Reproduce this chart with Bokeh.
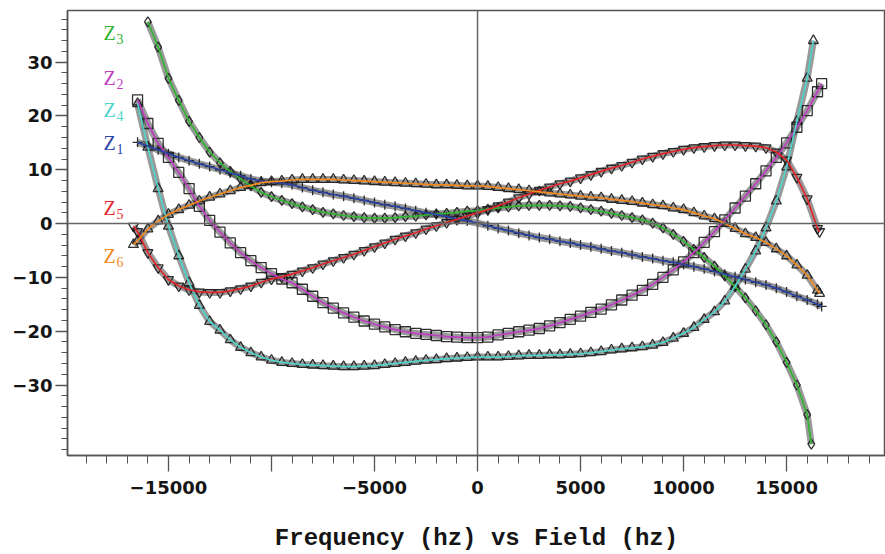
from bokeh.plotting import figure
from bokeh.models import Span, FixedTicker
from bokeh.core.properties import value
from bokeh.embed import file_html
from bokeh.resources import INLINE

# ---- data ----
Z3_F = [-16000, -15500, -15000, -14500, -14000, -13500, -13000, -12500, -12000, -11500, -11000, -10500,
        -10000, -9500, -9000, -8500, -8000, -7500, -7000, -6500, -6000, -5500, -5000, -4500, -4000, -3500,
        -3000, -2500, -2000, -1500, -1000, -500, 0, 500, 1000, 1500, 2000, 2500, 3000, 3500, 4000, 4500,
        5000, 5500, 6000, 6500, 7000, 7500, 8000, 8500, 9000, 9500, 10000, 10500, 11000, 11500, 12000,
        12500, 13000, 13500, 14000, 14500, 15000, 15500, 16000, 16200]
Z3_V = [37.5, 32.8, 27.0, 22.9, 19.0, 16.0, 13.3, 11.3, 9.7, 8.3, 7.0, 5.8,
        5.0, 4.3, 3.7, 3.1, 2.6, 2.1, 1.8, 1.5, 1.3, 1.1, 1.0, 1.0, 1.1, 1.3,
        1.4, 1.6, 1.8, 1.9, 2.1, 2.3, 2.4, 2.7, 2.9, 3.1, 3.3, 3.4, 3.4, 3.4, 3.3, 3.2,
        2.9, 2.6, 2.3, 1.9, 1.5, 1.1, 0.7, 0.1, -0.8, -2.0, -3.3, -4.8, -6.3, -7.9, -9.7,
        -11.7, -13.8, -16.2, -18.8, -22.0, -25.8, -30.0, -35.5, -41.0]

Z2_F = [-16500, -16000, -15500, -15000, -14500, -14000, -13500, -13000, -12500, -12000, -11500, -11000,
        -10500, -10000, -9500, -9000, -8500, -8000, -7500, -7000, -6500, -6000, -5500, -5000, -4500,
        -4000, -3500, -3000, -2500, -2000, -1500, -1000, -500, 0, 500, 1000, 1500, 2000, 2500, 3000,
        3500, 4000, 4500, 5000, 5500, 6000, 6500, 7000, 7500, 8000, 8500, 9000, 9500, 10000, 10500,
        11000, 11500, 12000, 12500, 13000, 13500, 14000, 14500, 15000, 15500, 16000, 16500, 16700]
Z2_V = [23.0, 18.6, 14.9, 12.3, 9.5, 6.5, 3.2, 0.6, -1.6, -3.6, -5.4, -6.9,
        -8.2, -9.3, -10.3, -11.0, -12.2, -13.5, -14.7, -15.7, -16.6, -17.4, -18.1, -18.7, -19.2,
        -19.7, -20.1, -20.4, -20.6, -20.8, -21.0, -21.1, -21.2, -21.2, -21.1, -20.7, -20.4, -20.1, -19.8, -19.5,
        -19.0, -18.4, -17.8, -17.2, -16.5, -15.9, -15.1, -14.2, -13.3, -12.4, -11.3, -10.0, -8.6, -7.1, -5.4,
        -3.5, -1.5, 0.7, 2.9, 5.1, 7.4, 9.8, 12.3, 15.0, 17.9, 21.0, 24.5, 26.0]

Z4_F = [-16500, -16000, -15500, -15000, -14500, -14000, -13500, -13000, -12500, -12000, -11500, -11000,
        -10500, -10000, -9500, -9000, -8500, -8000, -7500, -7000, -6500, -6000, -5500, -5000, -4500,
        -4000, -3500, -3000, -2500, -2000, -1500, -1000, -500, 0, 500, 1000, 1500, 2000, 2500, 3000,
        3500, 4000, 4500, 5000, 5500, 6000, 6500, 7000, 7500, 8000, 8500, 9000, 9500, 10000, 10500,
        11000, 11500, 12000, 12500, 13000, 13500, 14000, 14500, 15000, 15500, 16000, 16300]
Z4_V = [22.3, 14.2, 6.5, -0.5, -6.0, -11.0, -15.2, -18.2, -19.8, -21.6, -23.0, -24.0,
        -24.8, -25.4, -25.8, -26.0, -26.2, -26.3, -26.4, -26.5, -26.6, -26.6, -26.5, -26.4, -26.2,
        -26.0, -25.8, -25.6, -25.4, -25.3, -25.1, -25.0, -24.9, -24.8, -24.8, -24.8, -24.7, -24.6, -24.5, -24.5,
        -24.4, -24.4, -24.3, -24.2, -24.0, -23.8, -23.5, -23.3, -23.1, -22.9, -22.6, -22.1, -21.3, -20.4, -19.3,
        -17.8, -16.4, -14.4, -11.7, -8.5, -5.1, -0.8, 4.2, 10.5, 19.0, 27.0, 34.0]

Z1_F = [-16500, -16000, -15500, -15000, -14500, -14000, -13500, -13000, -12500, -12000, -11500, -11000,
        -10500, -10000, -9500, -9000, -8500, -8000, -7500, -7000, -6500, -6000, -5500, -5000, -4500,
        -4000, -3500, -3000, -2500, -2000, -1500, -1000, -500, 0, 500, 1000, 1500, 2000, 2500, 3000,
        3500, 4000, 4500, 5000, 5500, 6000, 6500, 7000, 7500, 8000, 8500, 9000, 9500, 10000, 10500,
        11000, 11500, 12000, 12500, 13000, 13500, 14000, 14500, 15000, 15500, 16000, 16500, 16700]
Z1_V = [15.1, 14.4, 13.7, 13.0, 12.3, 11.7, 11.1, 10.6, 10.0, 9.4, 8.9, 8.3,
        7.9, 7.7, 7.5, 7.2, 6.7, 6.2, 5.8, 5.4, 5.1, 4.7, 4.3, 3.9, 3.5,
        3.2, 2.8, 2.4, 2.0, 1.7, 1.3, 0.9, 0.5, 0.1, -0.4, -0.9, -1.3, -1.8, -2.2, -2.6,
        -2.9, -3.3, -3.6, -4.0, -4.3, -4.7, -5.1, -5.4, -5.8, -6.2, -6.5, -6.9, -7.2, -7.6, -8.0,
        -8.4, -8.9, -9.4, -9.9, -10.4, -10.9, -11.4, -12.0, -12.7, -13.5, -14.2, -15.0, -15.4]

Z5_F = [-16700, -16500, -16000, -15500, -15000, -14500, -14000, -13500, -13000, -12500, -12000, -11500,
        -11000, -10500, -10000, -9500, -9000, -8500, -8000, -7500, -7000, -6500, -6000, -5500, -5000,
        -4500, -4000, -3500, -3000, -2500, -2000, -1500, -1000, -500, 0, 500, 1000, 1500, 2000, 2500,
        3000, 3500, 4000, 4500, 5000, 5500, 6000, 6500, 7000, 7500, 8000, 8500, 9000, 9500, 10000,
        10500, 11000, 11500, 12000, 12500, 13000, 13500, 14000, 14500, 15000, 15500, 16000, 16500, 16600]
Z5_V = [-0.5, -1.5, -5.4, -8.2, -10.4, -11.6, -12.3, -12.7, -12.8, -12.8, -12.5, -12.1,
        -11.6, -10.9, -10.3, -9.9, -9.4, -8.8, -8.2, -7.5, -6.9, -6.3, -5.7, -5.0, -4.3,
        -3.6, -2.9, -2.3, -1.7, -1.0, -0.4, 0.2, 0.8, 1.4, 2.0, 2.6, 3.3, 4.0, 4.8, 5.5,
        6.2, 6.8, 7.4, 7.9, 8.5, 9.1, 9.7, 10.3, 10.8, 11.4, 12.0, 12.5, 13.0, 13.4, 13.8,
        14.1, 14.3, 14.5, 14.6, 14.6, 14.5, 14.4, 14.1, 13.3, 11.8, 8.6, 4.6, -0.9, -1.5]

Z6_F = [-16700, -16500, -16000, -15500, -15000, -14500, -14000, -13500, -13000, -12500, -12000, -11500,
        -11000, -10500, -10000, -9500, -9000, -8500, -8000, -7500, -7000, -6500, -6000, -5500, -5000,
        -4500, -4000, -3500, -3000, -2500, -2000, -1500, -1000, -500, 0, 500, 1000, 1500, 2000, 2500,
        3000, 3500, 4000, 4500, 5000, 5500, 6000, 6500, 7000, 7500, 8000, 8500, 9000, 9500, 10000,
        10500, 11000, 11500, 12000, 12500, 13000, 13500, 14000, 14500, 15000, 15500, 16000, 16500, 16600]
Z6_V = [-3.9, -3.2, -1.0, 0.5, 1.7, 2.6, 3.4, 4.2, 4.9, 5.5, 6.1, 6.7,
        7.1, 7.6, 7.8, 7.9, 8.1, 8.2, 8.2, 8.2, 8.2, 8.1, 8.0, 7.9, 7.8,
        7.7, 7.6, 7.5, 7.4, 7.3, 7.2, 7.2, 7.1, 7.0, 7.0, 6.9, 6.7, 6.5, 6.3, 6.1,
        5.9, 5.7, 5.5, 5.3, 5.1, 4.9, 4.8, 4.5, 4.3, 4.1, 3.8, 3.5, 3.3, 2.9, 2.6,
        2.0, 1.4, 0.9, 0.0, -0.9, -1.9, -2.6, -3.5, -4.7, -6.0, -7.7, -9.6, -12.4, -13.0]

SERIES = ["3", "2", "4", "1", "5", "6"]
COLORS = {"3": "#2fb52f", "2": "#c03ec4", "4": "#4fd3cb", "1": "#2c45a6", "5": "#e3262b", "6": "#f28a1e"}
MARKERS = {"3": "diamond", "2": "square", "4": "triangle", "1": "cross", "5": "inverted_triangle", "6": "triangle"}
DATA = {"3": (Z3_F, Z3_V), "2": (Z2_F, Z2_V), "4": (Z4_F, Z4_V),
        "1": (Z1_F, Z1_V), "5": (Z5_F, Z5_V), "6": (Z6_F, Z6_V)}

# curve label anchor (data units)
LABEL_X = -18150
LABEL_Y = {"3": 34.9, "2": 26.5, "4": 20.6, "1": 14.4, "5": 2.4, "6": -6.6}

X_MAJOR = [-15000, -10000, -5000, 0, 5000, 10000, 15000]
Y_MAJOR = [-30, -20, -10, 0, 10, 20, 30]

p = figure(width=885, height=554, x_range=(-19900, 19800), y_range=(-43.1, 39.6),
           output_backend="svg", toolbar_location=None,
           min_border_left=67, min_border_right=0, min_border_top=10, min_border_bottom=91)
p.grid.visible = False
p.outline_line_color = "#555555"
p.outline_line_width = 1.5
p.background_fill_color = "white"
p.border_fill_color = "white"

# axes
p.xaxis.ticker = FixedTicker(ticks=X_MAJOR, minor_ticks=list(range(-19000, 20000, 1000)))
p.yaxis.ticker = FixedTicker(ticks=Y_MAJOR, minor_ticks=list(range(-42, 40, 2)))
p.xaxis.major_label_overrides = {v: ("" if v == -10000 else str(v).replace("-", "\u2212")) for v in X_MAJOR}
p.yaxis.major_label_overrides = {v: str(v).replace("-", "\u2212") for v in Y_MAJOR}
for ax in (p.xaxis[0], p.yaxis[0]):
    ax.axis_line_color = "#555555"
    ax.axis_line_width = 1.5
    ax.major_tick_line_color = "#555555"
    ax.minor_tick_line_color = "#555555"
    ax.major_tick_line_width = 1.3
    ax.minor_tick_line_width = 1.0
    ax.major_tick_in = 0
    ax.minor_tick_in = 0
    ax.major_label_text_font = "DejaVu Sans"
    ax.major_label_text_font_style = "bold"
    ax.major_label_text_font_size = "18px"
    ax.major_label_text_color = "#151515"
p.xaxis.major_tick_out = 16
p.xaxis.minor_tick_out = 8
p.yaxis.major_tick_out = 12
p.yaxis.minor_tick_out = 6
p.xaxis.major_label_standoff = 9
p.yaxis.major_label_standoff = 3
p.xaxis.axis_label = "Frequency (hz) vs Field (hz)"
p.xaxis.axis_label_text_font = "Liberation Mono"
p.xaxis.axis_label_text_font_style = "bold"
p.xaxis.axis_label_text_font_size = "24px"
p.xaxis.axis_label_text_color = "#151515"
p.xaxis.axis_label_standoff = 28

# zero lines
p.add_layout(Span(location=0, dimension="height", line_color="#666666", line_width=1.5))
p.add_layout(Span(location=0, dimension="width", line_color="#666666", line_width=1.5))

# dense marker band under each curve, then markers, then coloured lines on top
for s in SERIES:
    f, v = DATA[s]
    p.line(f, v, line_color="#333333", line_width=7, line_alpha=0.5, line_join="round")
for s in SERIES:
    f, v = DATA[s]
    p.scatter(f, v, marker=MARKERS[s], size=10, fill_color=None,
              line_color="#1a1a1a", line_width=1.3, line_alpha=0.9)
for s in SERIES:
    f, v = DATA[s]
    p.line(f, v, line_color=COLORS[s], line_width=1.7)

# curve labels: Z with subscript
for s in SERIES:
    p.text(x=[LABEL_X], y=[LABEL_Y[s]], text=["Z"], text_color=COLORS[s],
           text_font=value("Liberation Serif"), text_font_size="20px",
           text_align="left", text_baseline="middle", y_offset=-3)
    p.text(x=[LABEL_X], y=[LABEL_Y[s]], text=[s], text_color=COLORS[s],
           text_font=value("Liberation Serif"), text_font_size="14px",
           text_align="left", text_baseline="middle", x_offset=13, y_offset=3)

open("out.html", "w").write(file_html(p, INLINE))
